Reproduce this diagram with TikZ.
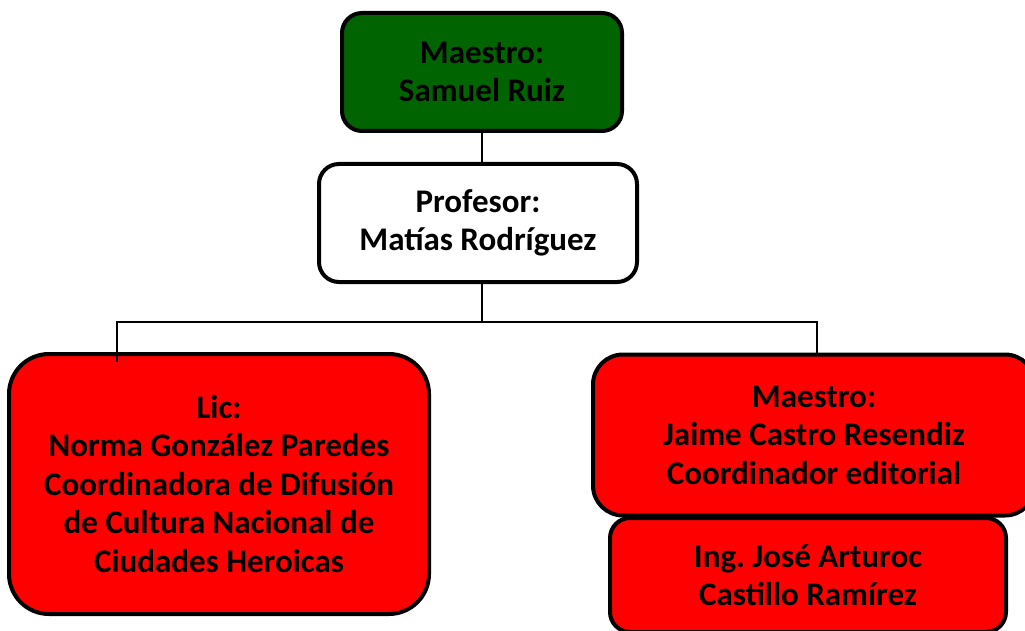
\documentclass[tikz,border=0pt]{standalone}
\usepackage{fontspec}
\setmainfont{Carlito}
\frenchspacing
\definecolor{dgreen}{RGB}{0,100,0}
\definecolor{bred}{RGB}{255,0,0}
\begin{document}
\begin{tikzpicture}[x=1pt,y=-1pt,
  box/.style={draw=black,line width=4pt,rounded corners=20pt,inner sep=0pt,align=center,
    font=\fontsize{33}{38.5}\selectfont\bfseries},
  conn/.style={draw=black,line width=1.4pt}]
\clip (0,0) rectangle (1025,631);
\fill[white] (0,0) rectangle (1025,631);
\node[box,fill=dgreen,minimum width=280pt,minimum height=118pt] (top) at (482,72) {Maestro:\\Samuel Ruiz};
\node[box,fill=white,minimum width=318pt,minimum height=118pt] (prof) at (478,223) {Profesor:\\Matías Rodríguez};
\node[box,fill=bred,rounded corners=40pt,minimum width=420pt,minimum height=260pt] (lic) at (219,484)
  {Lic:\\Norma González Paredes\\Coordinadora de Difusión\\de Cultura Nacional de\\Ciudades Heroicas};
\node[box,fill=bred,rounded corners=30pt,minimum width=442pt,minimum height=161pt] (jaime) at (814,435)
  {Maestro:\\Jaime Castro Resendiz\\Coordinador editorial};
\node[box,fill=bred,rounded corners=20pt,minimum width=396pt,minimum height=114pt] (jose) at (808,575)
  {Ing.\ José Arturoc\\Castillo Ramírez};
\coordinate (bar) at (482,322);
\coordinate (lt) at (117,362);
\coordinate (rt) at (817,355);
\draw[conn] (top.south) -- (top.south |- prof.north);
\draw[conn] (top.south |- prof.south) -- (bar) -| (lt);
\draw[conn] (bar) -| (rt);
\end{tikzpicture}
\end{document}
